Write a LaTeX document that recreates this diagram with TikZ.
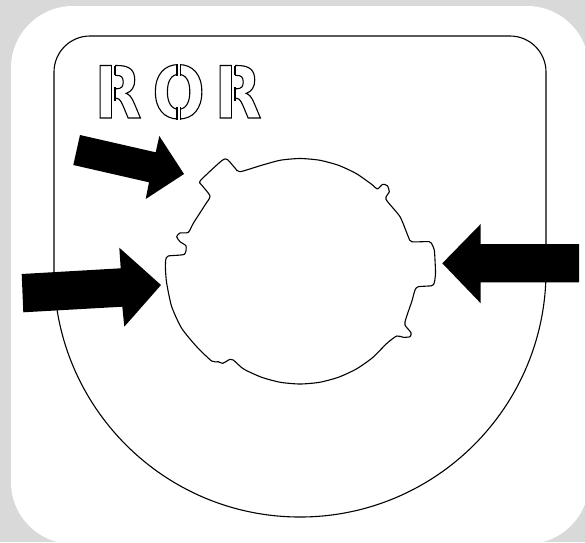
\documentclass[tikz,border=0pt]{standalone}
\usepackage{fontspec}
\newfontfamily\stencilr[FakeStretch=0.85]{DejaVu Sans Bold}
\newfontfamily\stencilo[FakeStretch=0.86]{DejaVu Sans Bold}
\newcommand{\outlined}[1]{\special{pdf:code q 1 Tr 1.1 w}#1\special{pdf:code 0 Tr Q}}
\definecolor{pagegray}{HTML}{D9D9D9}
\tikzset{
  outline/.style={draw=black,line width=1.1pt,line join=round},
  blockarrow/.style={fill=black,draw=none},
  letter/.style={anchor=base west,inner sep=0pt,outer sep=0pt},
  gapfill/.style={fill=white,draw=none},
  gapedge/.style={draw=black,line width=1.1pt},
}
\begin{document}
\begin{tikzpicture}[x=1pt,y=-1pt]
\useasboundingbox (0,0) rectangle (585,542);
\fill[pagegray] (0,0) rectangle (585,542);
\begin{scope}
\clip (0,0) rectangle (585,542);
\fill[white,rounded corners=62pt] (11,6) rectangle (589,544);
\end{scope}
% plate
\draw[outline] (54,271) -- (54,72) arc[start angle=180,end angle=90,x radius=36,y radius=-36]
  -- (510,36) arc[start angle=90,end angle=0,x radius=36,y radius=-36] -- (546,271)
  arc[start angle=0,end angle=-180,x radius=246,y radius=-246] -- cycle;
% hole
\draw[outline,fill=white] plot[smooth cycle,tension=0.4] coordinates {
(300,158.5)(280.5,160.2)(261.5,165.3)(240,171.7)(235,168)(227.3,159.5)(221.7,160.7)(200.5,180.5)(201.7,185)(210,196)(205,205)(193.3,223.3)(188.3,232.3)(180,233)(176.7,236.7)(180,241.7)(186,246)(184.3,254.3)(168.3,256)(165.7,260)(165.5,270)(166.7,283.3)(171.7,306.7)(181.7,328.3)(196.7,346.7)(211.7,361)(218.3,361.7)(222.7,363.3)(230,359.3)(233.3,360)(243.5,368.9)(261.4,377.2)(280.4,382.3)(300,384)(319.6,382.3)(338.6,377.2)(356.5,368.9)(372.6,357.6)(386.6,343.6)(396.7,336)(403.3,337.3)(410,336.7)(411,332.7)(405,325)(406,318.3)(411.7,301.7)(415,290)(418.3,286.7)(431.7,285.7)(434.3,282.7)(435.5,273.3)(435,260)(434.3,250)(432.3,245)(429.3,241.7)(411.7,241.7)(408.3,236.7)(400,216.7)(386,199.3)(389.3,191.7)(387.3,185.7)(382.7,184.3)(377.3,189)(372.3,184.8)(356.3,173.6)(338.5,165.3)(319.5,160.2)};
% arrows
\fill[blockarrow] (80,135)--(155.7,152.3)--(159.3,136)--(184,174)--(145.7,199)--(149,182.3)--(73.3,165)--cycle;
\fill[blockarrow] (21.7,274)--(120.7,268.3)--(119.3,247.7)--(161,285)--(124.3,326.7)--(122.3,306.7)--(23.3,312.3)--cycle;
\fill[blockarrow] (442.3,263.3)--(480.7,224)--(480.7,244)--(579,244)--(579,282.3)--(480.7,282.3)--(480.7,303.3)--cycle;
% lettering
\node[letter,font=\stencilr\fontsize{72}{72}\selectfont] (r1) at (94.5,118) {\outlined{R}};
\node[letter,font=\stencilo\fontsize{72}{72}\selectfont] (o1) at (152.3,118) {\outlined{O}};
\node[letter,font=\stencilr\fontsize{72}{72}\selectfont] (r2) at (214.5,118) {\outlined{R}};
% stencil bridges
\foreach \dx in {0,120}{
  \begin{scope}[xshift=\dx pt]
  \fill[gapfill] (111.8,62) rectangle (114.6,121);
  \draw[gapedge] (111.2,65.5) -- (111.2,117.5);
  \draw[gapedge] (115,65.5) -- (115,75);
  \draw[gapedge] (115,87) -- (115,101);
  \end{scope}
}
\fill[gapfill] (177.4,62) rectangle (180.2,122);
\draw[gapedge] (177,64) -- (177,76);
\draw[gapedge] (180.6,64) -- (180.6,76);
\draw[gapedge] (177,107) -- (177,119.5);
\draw[gapedge] (180.6,107) -- (180.6,119.5);
\end{tikzpicture}
\end{document}
